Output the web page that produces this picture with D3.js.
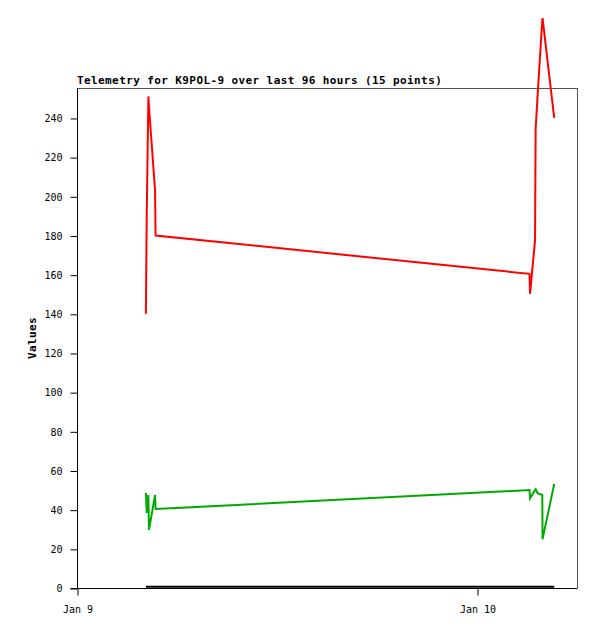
<!DOCTYPE html>
<html>
<head>
<meta charset="utf-8">
<script src="https://cdn.jsdelivr.net/npm/d3@7"></script>
<style>
  html, body { margin: 0; padding: 0; background: #fff; }
  svg { display: block; }
  text { font-family: "DejaVu Sans Mono", "Liberation Mono", monospace; }
</style>
</head>
<body>
<svg id="chart" width="597" height="629"></svg>
<script>
// ---- data ----
const title = "Telemetry for K9POL-9 over last 96 hours (15 points)";
const yLabel = "Values";
const times = [
  "2025-01-09T04:08", "2025-01-09T04:11", "2025-01-09T04:17", "2025-01-09T04:19",
  "2025-01-09T04:41", "2025-01-09T04:43", "2025-01-10T03:09", "2025-01-10T03:11",
  "2025-01-10T03:29", "2025-01-10T03:31", "2025-01-10T03:38", "2025-01-10T03:55",
  "2025-01-10T03:56", "2025-01-10T04:17", "2025-01-10T04:38"
];
const redValues   = [140, 190, 251, 246, 203, 180, 160.4, 150.2, 177.7, 234, 251, 290, 291, 265.5, 240];
const greenValues = [48.5, 38.3, 47.5, 29.6, 47.5, 40.3, 50, 45.8, 50, 50.4, 48.4, 47.5, 24.9, 39, 53.1];
const blackValues = [0.6, 0.6, 0.6, 0.6, 0.6, 0.6, 0.6, 0.6, 0.6, 0.6, 0.6, 0.6, 0.6, 0.6, 0.6];
const yTicks = [0, 20, 40, 60, 80, 100, 120, 140, 160, 180, 200, 220, 240];
const xTicks = ["2025-01-09T00:00", "2025-01-10T00:00"];
const xTickLabels = ["Jan 9", "Jan 10"];
const xDomain = ["2025-01-09T00:00", "2025-01-10T06:00"];
const yDomain = [0, 255.3];

// ---- drawing ----
(function () {
const parse = d3.timeParse("%Y-%m-%dT%H:%M");
const svg = d3.select("#chart");
const mLeft = 77, mRight = 577, mTop = 88, mBottom = 588;

const x = d3.scaleTime().domain(xDomain.map(parse)).range([mLeft, mRight]);
const y = d3.scaleLinear().domain(yDomain).range([mBottom, mTop]);

// frame top & right
svg.append("line").attr("x1", mLeft).attr("x2", mRight + 0.5).attr("y1", mTop + 0.5).attr("y2", mTop + 0.5)
  .attr("stroke", "#555").attr("stroke-width", 1);
svg.append("line").attr("x1", mRight + 0.5).attr("x2", mRight + 0.5).attr("y1", mTop).attr("y2", mBottom)
  .attr("stroke", "#555").attr("stroke-width", 1);

// series
const series = [
  { values: blackValues, color: "#000000" },
  { values: greenValues, color: "#00aa00" },
  { values: redValues, color: "#ff0000" }
];
const line = d3.line().x(d => x(d.t)).y(d => y(d.v));
series.forEach(s => {
  const pts = times.map((t, i) => ({ t: parse(t), v: s.values[i] }));
  svg.append("path").datum(pts).attr("d", line)
    .attr("fill", "none").attr("stroke", s.color).attr("stroke-width", 2)
    .attr("stroke-linejoin", "miter");
});

// y axis
const yAxis = d3.axisLeft(y).tickValues(yTicks).tickSize(7).tickPadding(8).tickSizeOuter(0);
const gy = svg.append("g").attr("transform", `translate(${mLeft + 0.5},0.5)`).call(yAxis);
gy.select(".domain").attr("stroke", "#000").attr("d", `M0,${mTop}V${mBottom}`);
gy.selectAll("line").attr("stroke", "#000");
gy.selectAll("text").attr("font-family", "DejaVu Sans Mono").attr("font-size", 10).attr("fill", "#000");

// x axis
const xAxis = d3.axisBottom(x).tickValues(xTicks.map(parse))
  .tickFormat((d, i) => xTickLabels[i]).tickSize(7).tickPadding(10).tickSizeOuter(0);
const gx = svg.append("g").attr("transform", `translate(0.5,${mBottom + 0.5})`).call(xAxis);
gx.select(".domain").attr("stroke", "#000").attr("d", `M${mLeft - 7},0H${mRight}`);
gx.selectAll("line").attr("stroke", "#000");
gx.selectAll("text").attr("font-family", "DejaVu Sans Mono").attr("font-size", 10).attr("fill", "#000");

// title
svg.append("text").attr("x", mLeft).attr("y", 84)
  .attr("font-size", 11).attr("font-weight", "bold").attr("letter-spacing", 0.4)
  .text(title);

// y label
svg.append("text").attr("transform", `translate(36,${(mTop + mBottom) / 2}) rotate(-90)`)
  .attr("text-anchor", "middle").attr("font-size", 11).attr("font-weight", "bold").attr("letter-spacing", 0.4)
  .text(yLabel);
})();
</script>
</body>
</html>
